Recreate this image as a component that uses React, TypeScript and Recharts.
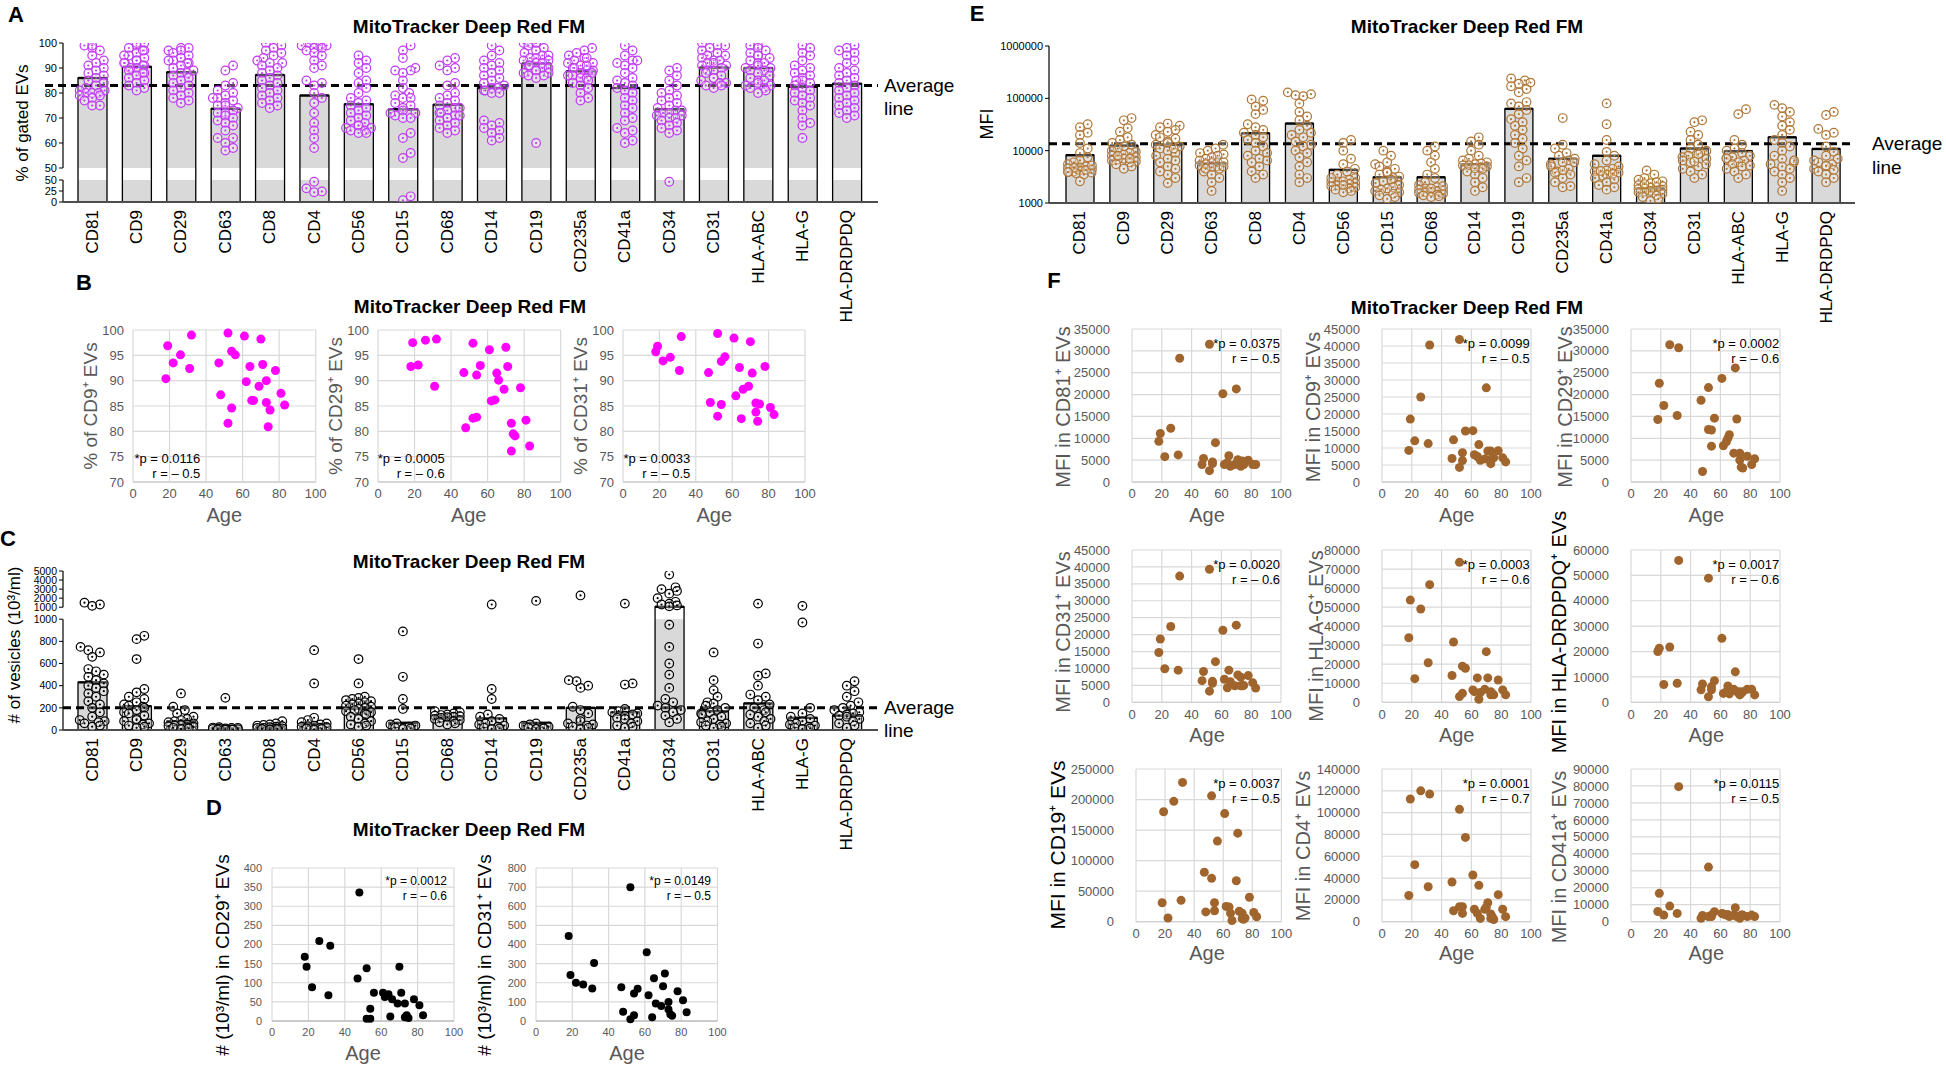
import React from 'react';
import {
  ComposedChart,
  ScatterChart,
  Bar,
  Scatter,
  XAxis,
  YAxis,
  CartesianGrid,
  ReferenceLine,
} from 'recharts';

const FONT = '"Liberation Sans", Arial, Helvetica, sans-serif';
const GREY_TXT = '#595959';

// ---------- bar panels (A, C, E) ----------
const MARKERS = [
  'CD81', 'CD9', 'CD29', 'CD63', 'CD8', 'CD4', 'CD56', 'CD15', 'CD68',
  'CD14', 'CD19', 'CD235a', 'CD41a', 'CD34', 'CD31', 'HLA-ABC', 'HLA-G', 'HLA-DRDPDQ',
];

// A: % of gated EVs
const PCT_MEAN = [86, 90.5, 88.3, 73.7, 87.2, 79, 75.5, 73.5, 75.3, 82, 91.8, 88.7, 82, 73.5, 90.2, 90, 82.5, 83.7];
const PCT_AVG = 83;
const PCT_TICKS_LOW = [0, 25, 50];
const PCT_TICKS_HIGH = [50, 60, 70, 80, 90, 100];
const PCT_DOTS = [
  [99, 98, 97, 95, 93, 92, 91, 90, 89, 88, 87, 86, 85, 84, 83, 82, 81, 81, 80, 80, 80, 79, 79, 78, 77, 75, 75, 99],
  [100, 99, 98, 97, 96, 95, 95, 94, 93, 93, 92, 92, 91, 91, 90, 90, 89, 88, 88, 87, 86, 85, 84, 83, 82, 81, 100, 97],
  [98, 98, 97, 97, 96, 95, 94, 93, 92, 92, 91, 90, 89, 88, 88, 87, 86, 85, 84, 83, 82, 81, 80, 79, 78, 77, 76, 93],
  [91, 89, 84, 83, 81, 80, 79, 78, 78, 77, 76, 75, 75, 74, 73, 72, 72, 71, 70, 69, 68, 67, 65, 62, 62, 60, 58, 57],
  [100, 99, 98, 97, 96, 95, 94, 93, 92, 92, 91, 90, 89, 88, 87, 86, 85, 84, 83, 82, 81, 80, 79, 78, 77, 76, 75, 74],
  [100, 100, 99, 99, 99, 98, 98, 97, 96, 95, 93, 91, 90, 85, 84, 83, 80, 78, 76, 72, 68, 65, 62, 58, 46, 31, 24, 22],
  [95, 93, 92, 90, 88, 85, 84, 82, 80, 78, 77, 76, 75, 74, 73, 72, 71, 70, 69, 68, 67, 67, 66, 66, 65, 65, 64, 64],
  [99, 97, 94, 90, 89, 89, 88, 85, 82, 80, 79, 78, 78, 76, 75, 74, 73, 72, 71, 70, 70, 64, 62, 56, 54, 4, 13, 72],
  [94, 93, 91, 90, 89, 84, 83, 80, 79, 78, 77, 76, 75, 74, 74, 73, 72, 72, 71, 71, 70, 70, 69, 68, 67, 66, 65, 64],
  [99, 97, 95, 93, 92, 91, 90, 89, 88, 87, 86, 85, 84, 83, 82, 82, 81, 81, 80, 80, 69, 68, 67, 66, 65, 64, 62, 61],
  [100, 100, 100, 100, 99, 98, 97, 96, 95, 95, 94, 94, 93, 93, 92, 92, 91, 91, 90, 90, 89, 89, 88, 88, 87, 87, 86, 60],
  [98, 97, 96, 95, 94, 93, 92, 92, 91, 90, 90, 89, 89, 88, 88, 87, 87, 86, 86, 85, 84, 83, 82, 80, 78, 77, 91, 94],
  [99, 97, 95, 93, 93, 92, 91, 90, 88, 86, 85, 84, 83, 82, 81, 80, 78, 77, 75, 74, 72, 70, 69, 66, 65, 64, 61, 60],
  [90, 89, 87, 85, 83, 81, 80, 79, 78, 77, 76, 75, 74, 73, 73, 72, 72, 71, 71, 70, 70, 69, 68, 67, 66, 65, 64, 46],
  [100, 99, 99, 98, 97, 96, 95, 95, 94, 93, 93, 92, 92, 91, 91, 90, 89, 89, 88, 87, 86, 86, 85, 84, 84, 83, 83, 82],
  [99, 99, 98, 97, 96, 95, 95, 94, 93, 92, 92, 91, 90, 90, 89, 89, 88, 87, 86, 85, 85, 84, 83, 83, 82, 82, 81, 80],
  [99, 98, 96, 95, 93, 91, 90, 89, 88, 87, 86, 85, 85, 84, 83, 82, 81, 80, 79, 78, 77, 76, 75, 73, 70, 68, 67, 62],
  [99, 98, 97, 96, 95, 93, 92, 90, 89, 88, 87, 86, 85, 84, 83, 82, 81, 80, 79, 78, 77, 76, 75, 74, 73, 72, 71, 70],
];

// C: number of vesicles (10^3/ml)
const VES_MEAN = [430, 215, 80, 20, 30, 55, 195, 65, 120, 105, 65, 200, 160, 1050, 170, 240, 110, 130];
const VES_AVG = 200;
const VES_TICKS_LOW = [0, 200, 400, 600, 800, 1000];
const VES_TICKS_HIGH = [1000, 2000, 3000, 4000, 5000];
const VES_DOTS = [
  [1300, 1500, 1150, 750, 720, 700, 660, 550, 530, 500, 480, 450, 420, 400, 380, 350, 330, 300, 260, 230, 200, 160, 120, 90, 80, 70, 60, 40, 30],
  [850, 820, 640, 370, 340, 300, 280, 250, 230, 220, 210, 200, 180, 160, 150, 130, 100, 90, 80, 60, 50, 40, 30, 20],
  [330, 210, 180, 150, 120, 100, 90, 80, 70, 60, 50, 45, 40, 35, 30, 25, 20, 15, 10],
  [290, 25, 22, 20, 18, 15, 12, 10, 8, 6, 5, 4, 3],
  [80, 60, 50, 45, 40, 35, 30, 25, 20, 18, 15, 12, 10, 8, 5],
  [720, 420, 110, 90, 70, 60, 50, 40, 35, 30, 25, 20, 15, 10, 5],
  [640, 420, 300, 290, 280, 270, 260, 250, 240, 230, 220, 210, 200, 190, 180, 170, 160, 150, 140, 120, 100, 80, 60, 50, 40, 30],
  [890, 480, 280, 190, 60, 50, 40, 30, 20, 15, 10],
  [170, 160, 150, 140, 135, 130, 125, 120, 115, 110, 100, 90, 80, 70, 60, 50],
  [1300, 370, 280, 140, 120, 100, 80, 60, 50, 40, 30, 20, 15, 10],
  [1700, 60, 50, 40, 30, 25, 20, 15, 10],
  [2300, 450, 440, 400, 380, 210, 180, 150, 100, 80, 60, 50, 40, 30, 20, 10],
  [1400, 420, 410, 190, 170, 160, 150, 140, 130, 110, 100, 80, 60, 40, 30, 20],
  [4600, 3200, 3000, 2800, 2500, 2000, 1600, 1400, 1300, 1200, 1100, 950, 750, 600, 500, 380, 280, 250, 220, 200, 180, 160, 130, 100, 70],
  [700, 450, 360, 300, 250, 240, 220, 200, 180, 160, 150, 140, 120, 100, 80, 70, 60, 50, 40, 30, 20],
  [1400, 780, 510, 490, 400, 320, 300, 270, 230, 200, 180, 160, 140, 120, 100, 80, 60, 40, 20],
  [1150, 970, 200, 150, 120, 100, 80, 60, 50, 40, 30, 20, 15, 10],
  [440, 400, 350, 300, 250, 220, 200, 180, 160, 150, 140, 130, 120, 100, 80, 60, 40, 20],
];

// E: MFI (log axis)
const MFI_MEAN = [8200, 12500, 13000, 5700, 21500, 33000, 4300, 3100, 3100, 5500, 63000, 7000, 8000, 1900, 11000, 9800, 18000, 10800];
const MFI_AVG = 13600;
const MFI_TICKS = [1000, 10000, 100000, 1000000];
const MFI_DOTS = [
  [32000, 28000, 22000, 20000, 14000, 11000, 9000, 7500, 6500, 6000, 5500, 5000, 4800, 4600, 4400, 4200, 4000, 3900, 3800, 3700, 3500, 2600, 4300, 5200, 4700, 3900],
  [42000, 38000, 27000, 23000, 18000, 16000, 14000, 13000, 12000, 11000, 10000, 9500, 9000, 8500, 8000, 7500, 7000, 6800, 6500, 6200, 6000, 5500, 5000, 4500, 7000, 8000],
  [33000, 30000, 28000, 25000, 23000, 20000, 18000, 17000, 15000, 14000, 13000, 12000, 11000, 10000, 9000, 8000, 7000, 6500, 6000, 5000, 4500, 4000, 3500, 3000, 2400, 11000],
  [13000, 11000, 10000, 9000, 8500, 8000, 7500, 7000, 6500, 6000, 5800, 5500, 5200, 5000, 4800, 4500, 4000, 3500, 3000, 2500, 1700, 6000, 5000, 4500],
  [95000, 90000, 70000, 60000, 50000, 32000, 28000, 25000, 22000, 20000, 18000, 16000, 14000, 12000, 10000, 9000, 8000, 7000, 6500, 6000, 5000, 4000, 3500, 3000],
  [130000, 120000, 115000, 110000, 80000, 55000, 45000, 38000, 30000, 25000, 22000, 20000, 18000, 15000, 13000, 12000, 10000, 9000, 7500, 6000, 5000, 3500, 3000, 2500],
  [16000, 14000, 10000, 7000, 5500, 4500, 4000, 3500, 3000, 2800, 2600, 2500, 2400, 2300, 2200, 2100, 2000, 1900, 1800, 1700, 1600, 2600, 3000, 2200],
  [10000, 8000, 6000, 5500, 5000, 4500, 4000, 3800, 3500, 3200, 3000, 2800, 2600, 2400, 2200, 2000, 1900, 1800, 1700, 1600, 1500, 1400, 1300, 1200],
  [12000, 10000, 8000, 6000, 4500, 3500, 3000, 2500, 2200, 2000, 1900, 1800, 1750, 1700, 1650, 1600, 1550, 1500, 1450, 1400, 1350, 1300, 1900, 2100],
  [18000, 15000, 13000, 10000, 8000, 7000, 6500, 6000, 5700, 5500, 5200, 5000, 4800, 4500, 4000, 3500, 3000, 2500, 2000, 1700, 5300, 4600],
  [240000, 220000, 200000, 190000, 170000, 150000, 130000, 85000, 80000, 70000, 60000, 50000, 40000, 35000, 30000, 25000, 20000, 17000, 14000, 11000, 8000, 6500, 5000, 3000, 2500],
  [42000, 13000, 11000, 9000, 8000, 7000, 6500, 6000, 5500, 5000, 4500, 4000, 3500, 3000, 2500, 2000, 2100, 6000, 4200, 3800],
  [80000, 32000, 16000, 9500, 8000, 6500, 5500, 5000, 4500, 4200, 4000, 3800, 3500, 3300, 3000, 2800, 2500, 2200, 2000, 1800, 3600, 4100],
  [4200, 3500, 3000, 2800, 2600, 2400, 2200, 2100, 2000, 1950, 1900, 1850, 1800, 1750, 1700, 1650, 1600, 1500, 1400, 1300, 1200, 1100, 2300, 2500],
  [38000, 35000, 23000, 20000, 16000, 13000, 11000, 10000, 9000, 8000, 7500, 7000, 6500, 6000, 5500, 5000, 4500, 4000, 3500, 3000, 8500, 6200],
  [62000, 50000, 16000, 13000, 11000, 10000, 9000, 8000, 7500, 7000, 6500, 6000, 5500, 5000, 4500, 4000, 3500, 3000, 7200, 5200],
  [75000, 65000, 55000, 45000, 35000, 30000, 25000, 20000, 16000, 14000, 12000, 10000, 8000, 7000, 6000, 5500, 5000, 4500, 4000, 3500, 3000, 2500, 1700, 6500],
  [55000, 48000, 26000, 22000, 20000, 12000, 9500, 8000, 7000, 6000, 5500, 5000, 4500, 4000, 3500, 3000, 2500, 5200, 6500, 4300],
];

// ---------- age correlation panels (B, D, F) ----------
const AGES = [18, 19, 22, 26, 31, 32, 47, 48, 52, 52, 54, 54, 56, 61, 62, 64, 65, 66, 69, 70, 71, 73, 73, 74, 75, 78, 81, 83];
const AGE_TICKS = [0, 20, 40, 60, 80, 100];

const B_CD9 = [90.4, 96.9, 93.5, 95.1, 92.4, 99.0, 93.5, 87.2, 99.4, 81.6, 95.8, 84.6, 95.1, 98.8, 89.8, 92.8, 86.1, 86.1, 88.9, 98.2, 93.2, 90.0, 85.7, 80.9, 84.2, 92.0, 87.5, 85.2];
const B_CD29 = [92.8, 97.5, 93.1, 98.0, 88.9, 98.2, 91.6, 80.7, 97.4, 82.6, 82.8, 91.1, 93.0, 96.1, 86.0, 86.2, 91.5, 90.1, 88.3, 96.6, 92.8, 81.6, 76.1, 79.5, 79.1, 88.6, 82.2, 77.1];
const B_CD31 = [95.7, 96.8, 93.9, 94.6, 92.0, 98.7, 91.6, 85.7, 99.3, 83.0, 93.8, 85.3, 94.7, 98.4, 87.0, 92.6, 82.5, 88.3, 88.9, 97.7, 91.5, 85.6, 83.8, 82.0, 85.4, 92.8, 84.7, 83.3];
const B_TICKS = [70, 75, 80, 85, 90, 95, 100];

const D_CD29 = [168, 142, 88, 209, 67, 197, 111, 336, 138, 6, 6, 32, 74, 74, 63, 70, 12, 57, 46, 142, 74, 46, 10, 15, 8, 57, 41, 15];
const D_CD31 = [445, 240, 200, 191, 170, 303, 177, 49, 9, 700, 30, 144, 168, 359, 135, 19, 224, 91, 79, 182, 248, 100, 60, 35, 28, 156, 109, 46];
const D29_TICKS = [0, 50, 100, 150, 200, 250, 300, 350, 400];
const D31_TICKS = [0, 100, 200, 300, 400, 500, 600, 700, 800];

const F_CD81 = [9300, 11100, 5800, 12300, 6200, 28300, 4000, 5400, 2600, 31500, 4600, 4200, 9000, 20200, 4000, 4400, 6000, 3600, 4000, 21300, 5100, 4400, 3600, 4800, 4000, 5000, 4000, 4000];
const F_CD9 = [9300, 18500, 12100, 25000, 11300, 40300, 6900, 12400, 4300, 41900, 8600, 6300, 15000, 15100, 8000, 7500, 11000, 6400, 6800, 27700, 9100, 9100, 5400, 7100, 7100, 9200, 7100, 5900];
const F_CD29 = [14300, 22600, 17500, 31400, 15200, 30700, 18700, 2400, 21600, 12000, 11900, 8200, 14600, 23700, 8300, 9200, 10000, 10800, 6600, 26100, 14400, 6600, 5000, 3400, 3200, 5900, 4000, 5300];
const F_CD31 = [14700, 18700, 9900, 22400, 9500, 37300, 6400, 9100, 3300, 39300, 6200, 5600, 12000, 21300, 6800, 4300, 9500, 6100, 4900, 22800, 8100, 7400, 4900, 4900, 5000, 7900, 5800, 4200];
const F_HLAG = [33900, 53700, 12400, 49000, 20800, 61800, 14100, 31700, 3000, 73500, 4700, 19000, 17900, 6500, 5600, 12800, 1600, 5100, 6800, 26600, 12800, 5600, 3900, 4500, 3900, 11700, 6500, 3900];
const F_HLADR = [20000, 21300, 7000, 21800, 7500, 55900, 4900, 7200, 2200, 48900, 4900, 6200, 8500, 25200, 3500, 4200, 6400, 3300, 5100, 12000, 4200, 4200, 2900, 3500, 4200, 5100, 5100, 2900];
const F_CD19 = [31000, 180000, 6000, 197000, 35000, 228000, 81000, 16000, 71000, 206000, 18000, 31000, 132000, 177000, 25000, 24000, 14000, 2000, 67000, 145000, 17000, 14000, 5000, 4000, 6000, 40000, 15000, 8000];
const F_CD4 = [24000, 112500, 52300, 120000, 32000, 117000, 36400, 10000, 103000, 13800, 7600, 13800, 77300, 42800, 11400, 7600, 33300, 3000, 11400, 13100, 17400, 7000, 3000, 4600, 2000, 24800, 11400, 4600];
const F_CD41A = [6000, 16700, 3900, 9200, 4900, 79600, 2000, 3700, 3000, 32200, 3000, 3900, 5900, 4900, 4500, 3900, 4200, 3000, 3900, 8200, 3000, 2000, 3000, 3900, 3900, 3000, 3900, 3000];

const T35K = [0, 5000, 10000, 15000, 20000, 25000, 30000, 35000];
const T45K = [0, 5000, 10000, 15000, 20000, 25000, 30000, 35000, 40000, 45000];
const T60K = [0, 10000, 20000, 30000, 40000, 50000, 60000];
const T80K = [0, 10000, 20000, 30000, 40000, 50000, 60000, 70000, 80000];
const T90K = [0, 10000, 20000, 30000, 40000, 50000, 60000, 70000, 80000, 90000];
const T140K = [0, 20000, 40000, 60000, 80000, 100000, 120000, 140000];
const T250K = [0, 50000, 100000, 150000, 200000, 250000];

// broken-axis transforms
const pctD = (v: number) => (v <= 50 ? v * 0.176 : 13.6 + (v - 50));
const vesD = (v: number) => (v <= 1000 ? v : 1108 + (v - 1000) * 0.08175);

// simple beeswarm: horizontal offsets in px so the rings don't pile up
function swarm(vals: number[], py: (v: number) => number, r: number, maxOff: number): number[] {
  const order = vals.map((_, i) => i).sort((a, b) => py(vals[a]) - py(vals[b]));
  const placed: { x: number; y: number }[] = [];
  const out = vals.map(() => 0);
  const step = r * 0.9;
  const minD2 = (r * 1.7) ** 2;
  order.forEach((i, n) => {
    const y = py(vals[i]);
    let chosen: number | null = null;
    for (let k = 0; k < 30 && chosen === null; k++) {
      const off = (k % 2 ? 1 : -1) * Math.ceil(k / 2) * step;
      if (Math.abs(off) > maxOff) continue;
      if (placed.every((q) => (q.x - off) ** 2 + (q.y - y) ** 2 >= minD2)) chosen = off;
    }
    if (chosen === null) chosen = ((n % 5) - 2) * (maxOff / 2);
    placed.push({ x: chosen, y });
    out[i] = chosen;
  });
  return out;
}

// eslint-disable-next-line @typescript-eslint/no-explicit-any
const CatTick = (props: any) => {
  const { x, y, payload } = props;
  return (
    <text
      transform={`translate(${x},${y}) rotate(-90)`}
      textAnchor="end"
      dominantBaseline="central"
      fontSize={17}
      fontFamily={FONT}
      fill="#000"
    >
      {payload.value}
    </text>
  );
};

const ring = (color: string) =>
  // eslint-disable-next-line @typescript-eslint/no-explicit-any
  (props: any) => (
    <g>
      <circle cx={props.cx} cy={props.cy} r={4.3} fill="#fff" fillOpacity={0.3} stroke={color} strokeWidth={1.2} />
      <circle cx={props.cx} cy={props.cy} r={1.1} fill={color} />
    </g>
  );

const brokenBar = (gap?: [number, number]) =>
  // eslint-disable-next-line @typescript-eslint/no-explicit-any
  (props: any) => {
    const { x, y, width, height, payload } = props;
    if (!(height > 0)) return <g />;
    const base = y + height;
    let gapRect = null;
    if (gap && payload.d > gap[0]) {
      const ppu = height / payload.d;
      const g0 = base - gap[0] * ppu;
      const g1 = base - Math.min(gap[1], payload.d) * ppu;
      gapRect = <rect x={x} y={g1} width={width} height={g0 - g1} fill="#fff" />;
    }
    return (
      <g>
        <rect x={x} y={y} width={width} height={height} fill="#d9d9d9" />
        {gapRect}
        <rect x={x} y={y} width={width} height={height} fill="none" stroke="#000" strokeWidth={1.3} />
        <line x1={x} x2={x + width} y1={y} y2={y} stroke="#000" strokeWidth={2.4} />
      </g>
    );
  };

type BarPanelProps = {
  plotLeft: number;
  plotTop: number;
  plotW: number;
  plotH: number;
  padL: number;
  padR: number;
  barSize: number;
  means: number[];
  dots: number[][];
  avg: number;
  avgExtendL?: number;
  toD: (v: number) => number;
  domain: [number, number];
  ticks: { d: number; label: string }[];
  gap?: [number, number];
  log?: boolean;
  dotColor: string;
  tickFont: number;
};

function BarPanel(p: BarPanelProps) {
  const YW = 50;
  const MT = 10;
  const MR = 30;
  const XH = 140;
  const band = (p.plotW - p.padL - p.padR) / MARKERS.length;
  const xMin = -0.5 - p.padL / band;
  const xMax = MARKERS.length - 0.5 + p.padR / band;
  const [d0, d1] = p.domain;
  const frac = (v: number) => {
    const d = p.toD(v);
    const t = p.log
      ? (Math.log10(d) - Math.log10(d0)) / (Math.log10(d1) - Math.log10(d0))
      : (d - d0) / (d1 - d0);
    return t * p.plotH;
  };
  const bars = MARKERS.map((name, i) => ({ name, d: p.toD(p.means[i]) }));
  const pts = p.dots.flatMap((vals, i) => {
    const offs = swarm(vals, frac, 4.3, p.barSize / 2 - 2);
    return vals.map((v, j) => ({ x: i + offs[j] / band, y: p.toD(v) }));
  });
  const labelOf = new Map(p.ticks.map((t) => [t.d, t.label]));
  const segs: [number, number][] = p.gap ? [[d0, p.gap[0]], [p.gap[1], d1]] : [[d0, d1]];
  const avgD = p.toD(p.avg);
  const avgX0 = xMin - (p.avgExtendL ?? 0) / band;

  return (
    <div style={{ position: 'absolute', left: p.plotLeft - YW, top: p.plotTop - MT }}>
      <ComposedChart
        width={p.plotW + YW + MR}
        height={p.plotH + MT + XH}
        data={bars}
        margin={{ top: MT, right: MR, left: 0, bottom: 0 }}
      >
        <XAxis
          dataKey="name"
          height={XH}
          padding={{ left: p.padL, right: p.padR }}
          axisLine={{ stroke: '#4d4d4d', strokeWidth: 2 }}
          tickLine={false}
          interval={0}
          tick={CatTick}
        />
        <XAxis xAxisId="n" type="number" dataKey="x" domain={[xMin, xMax]} allowDataOverflow hide />
        <YAxis
          width={YW}
          type="number"
          domain={p.domain}
          scale={p.log ? 'log' : 'auto'}
          allowDataOverflow
          ticks={p.ticks.map((t) => t.d)}
          interval={0}
          tickFormatter={(d: number) => labelOf.get(d) ?? ''}
          axisLine={false}
          tickLine={{ stroke: '#000' }}
          tickSize={4}
          tickMargin={2}
          tick={{ fontSize: p.tickFont, fill: '#000', fontFamily: FONT }}
        />
        <Bar dataKey="d" barSize={p.barSize} isAnimationActive={false} shape={brokenBar(p.gap)} />
        <Scatter data={pts} xAxisId="n" dataKey="y" isAnimationActive={false} shape={ring(p.dotColor)} />
        <ReferenceLine
          xAxisId="n"
          segment={[{ x: avgX0, y: avgD }, { x: xMax, y: avgD }]}
          stroke="#000"
          strokeWidth={3}
          strokeDasharray="8 5"
          ifOverflow="visible"
        />
        {segs.map(([a, b], k) => (
          <ReferenceLine
            key={k}
            xAxisId="n"
            segment={[{ x: xMin, y: a }, { x: xMin, y: b }]}
            stroke="#000"
            strokeWidth={1.2}
            ifOverflow="visible"
          />
        ))}
      </ComposedChart>
    </div>
  );
}

type ScatterPanelProps = {
  plotLeft: number;
  plotTop: number;
  plotW: number;
  plotH: number;
  ys: number[];
  yTicks: number[];
  color: string;
  r: number;
  tickFont: number;
  yGap: number;
  axisColor?: string;
};

function ScatterPanel(p: ScatterPanelProps) {
  const YW = 80;
  const MT = 12;
  const MR = 14;
  const XH = 30;
  const pts = AGES.map((a, i) => ({ x: a, y: p.ys[i] }));
  const tick = { fontSize: p.tickFont, fill: GREY_TXT, fontFamily: FONT };
  return (
    <div style={{ position: 'absolute', left: p.plotLeft - YW, top: p.plotTop - MT }}>
      <ScatterChart
        width={p.plotW + YW + MR}
        height={p.plotH + MT + XH}
        margin={{ top: MT, right: MR, left: 0, bottom: 0 }}
      >
        <CartesianGrid stroke="#d9d9d9" strokeWidth={1.2} />
        <XAxis
          type="number"
          dataKey="x"
          domain={[0, 100]}
          ticks={AGE_TICKS}
          interval={0}
          height={XH}
          axisLine={{ stroke: p.axisColor ?? '#d0d0d0', strokeWidth: 1.3 }}
          tickLine={false}
          tickSize={0}
          tickMargin={7}
          tick={tick}
        />
        <YAxis
          type="number"
          dataKey="y"
          domain={[p.yTicks[0], p.yTicks[p.yTicks.length - 1]]}
          ticks={p.yTicks}
          interval={0}
          width={YW}
          axisLine={false}
          tickLine={false}
          tickSize={0}
          tickMargin={p.yGap}
          tick={tick}
        />
        <Scatter
          data={pts}
          isAnimationActive={false}
          // eslint-disable-next-line @typescript-eslint/no-explicit-any
          shape={(s: any) => <circle cx={s.cx} cy={s.cy} r={p.r} fill={p.color} />}
        />
      </ScatterChart>
    </div>
  );
}

type TxtProps = {
  x: number;
  y: number;
  size?: number;
  bold?: boolean;
  color?: string;
  align?: 'start' | 'middle' | 'end';
  rotate?: boolean;
  children: React.ReactNode;
};

function Txt({ x, y, size = 19, bold = false, color = '#000', align = 'middle', rotate = false, children }: TxtProps) {
  const transform = rotate
    ? 'translate(-50%,-50%) rotate(-90deg)'
    : align === 'start'
      ? 'translate(0,-50%)'
      : align === 'end'
        ? 'translate(-100%,-50%)'
        : 'translate(-50%,-50%)';
  return (
    <div
      style={{
        position: 'absolute',
        left: x,
        top: y,
        transform,
        fontSize: size,
        fontWeight: bold ? 700 : 400,
        color,
        fontFamily: FONT,
        whiteSpace: 'nowrap',
        lineHeight: 1,
      }}
    >
      {children}
    </div>
  );
}

function Stat({ right, top, p, r, size = 13 }: { right: number; top: number; p: string; r: string; size?: number }) {
  return (
    <>
      <Txt x={right} y={top} size={size} align="end">{`*p = ${p}`}</Txt>
      <Txt x={right} y={top + 15} size={size} align="end">{`r = – ${r}`}</Txt>
    </>
  );
}

const TITLE = 'MitoTracker Deep Red FM';
const BROWN = '#A0652D';

export default function App() {
  const pctTicks = [
    ...PCT_TICKS_LOW.map((v) => ({ d: pctD(v), label: String(v) })),
    ...PCT_TICKS_HIGH.slice(1).map((v) => ({ d: pctD(v), label: String(v) })),
    { d: 13.6, label: '50' },
  ];
  const vesTicks = [
    ...VES_TICKS_LOW.map((v) => ({ d: vesD(v), label: String(v) })),
    { d: 1108, label: '1000' },
    ...VES_TICKS_HIGH.slice(1).map((v) => ({ d: vesD(v), label: String(v) })),
  ];
  const mfiTicks = MFI_TICKS.map((v) => ({ d: v, label: String(v) }));

  // scatter grid geometry
  const bX = [133.3, 377.7, 623.3];
  const dX = [272, 536];
  const fX = [1132, 1381.7, 1631.3];
  const fY = [329.3, 550, 769];

  return (
    <div
      style={{
        position: 'absolute',
        left: 0,
        top: 0,
        width: 1946,
        height: 1067,
        background: '#fff',
        overflow: 'hidden',
        fontFamily: FONT,
      }}
    >
      {/* ---------- A ---------- */}
      <BarPanel
        plotLeft={63}
        plotTop={43}
        plotW={815}
        plotH={159}
        padL={7}
        padR={9}
        barSize={29}
        means={PCT_MEAN}
        dots={PCT_DOTS}
        avg={PCT_AVG}
        avgExtendL={18}
        toD={pctD}
        domain={[0, 63.6]}
        ticks={pctTicks}
        gap={[8.8, 13.6]}
        dotColor="#C03AF5"
        tickFont={11}
      />
      {/* ---------- C ---------- */}
      <BarPanel
        plotLeft={63}
        plotTop={571}
        plotW={815}
        plotH={159}
        padL={7}
        padR={9}
        barSize={29}
        means={VES_MEAN}
        dots={VES_DOTS}
        avg={VES_AVG}
        toD={vesD}
        domain={[0, 1435]}
        ticks={vesTicks}
        gap={[1000, 1108]}
        dotColor="#000"
        tickFont={10.5}
      />
      {/* ---------- E ---------- */}
      <BarPanel
        plotLeft={1049}
        plotTop={46}
        plotW={806}
        plotH={157}
        padL={9}
        padR={7}
        barSize={28}
        means={MFI_MEAN}
        dots={MFI_DOTS}
        avg={MFI_AVG}
        toD={(v) => v}
        domain={[1000, 1000000]}
        ticks={mfiTicks}
        log
        dotColor="#B07636"
        tickFont={11}
      />

      {/* ---------- B ---------- */}
      <ScatterPanel plotLeft={bX[0]} plotTop={330} plotW={182.7} plotH={152} ys={B_CD9} yTicks={B_TICKS} color="#FF00FF" r={4.5} tickFont={13} yGap={9} />
      <ScatterPanel plotLeft={bX[1]} plotTop={330} plotW={182.7} plotH={152} ys={B_CD29} yTicks={B_TICKS} color="#FF00FF" r={4.5} tickFont={13} yGap={9} />
      <ScatterPanel plotLeft={bX[2]} plotTop={330} plotW={182} plotH={152} ys={B_CD31} yTicks={B_TICKS} color="#FF00FF" r={4.5} tickFont={13} yGap={9} />

      {/* ---------- D ---------- */}
      <ScatterPanel plotLeft={dX[0]} plotTop={868} plotW={182} plotH={153} ys={D_CD29} yTicks={D29_TICKS} color="#000" r={4} tickFont={11} yGap={10} axisColor="#bfbfbf" />
      <ScatterPanel plotLeft={dX[1]} plotTop={868} plotW={181.5} plotH={153} ys={D_CD31} yTicks={D31_TICKS} color="#000" r={4} tickFont={11} yGap={10} axisColor="#bfbfbf" />

      {/* ---------- F ---------- */}
      <ScatterPanel plotLeft={fX[0]} plotTop={fY[0]} plotW={149} plotH={153} ys={F_CD81} yTicks={T35K} color={BROWN} r={4.5} tickFont={13} yGap={22} />
      <ScatterPanel plotLeft={fX[1]} plotTop={fY[0]} plotW={149} plotH={153} ys={F_CD9} yTicks={T45K} color={BROWN} r={4.5} tickFont={13} yGap={22} />
      <ScatterPanel plotLeft={fX[2]} plotTop={fY[0]} plotW={149} plotH={153} ys={F_CD29} yTicks={T35K} color={BROWN} r={4.5} tickFont={13} yGap={22} />
      <ScatterPanel plotLeft={fX[0]} plotTop={fY[1]} plotW={149} plotH={152.3} ys={F_CD31} yTicks={T45K} color={BROWN} r={4.5} tickFont={13} yGap={22} />
      <ScatterPanel plotLeft={fX[1]} plotTop={fY[1]} plotW={149} plotH={152.3} ys={F_HLAG} yTicks={T80K} color={BROWN} r={4.5} tickFont={13} yGap={22} />
      <ScatterPanel plotLeft={fX[2]} plotTop={fY[1]} plotW={149} plotH={152.3} ys={F_HLADR} yTicks={T60K} color={BROWN} r={4.5} tickFont={13} yGap={22} />
      <ScatterPanel plotLeft={1136} plotTop={fY[2]} plotW={145.4} plotH={152.7} ys={F_CD19} yTicks={T250K} color={BROWN} r={4.5} tickFont={13} yGap={22} />
      <ScatterPanel plotLeft={fX[1]} plotTop={fY[2]} plotW={149} plotH={152.7} ys={F_CD4} yTicks={T140K} color={BROWN} r={4.5} tickFont={13} yGap={22} />
      <ScatterPanel plotLeft={fX[2]} plotTop={fY[2]} plotW={149} plotH={152.7} ys={F_CD41A} yTicks={T90K} color={BROWN} r={4.5} tickFont={13} yGap={22} />

      {/* panel letters */}
      <Txt x={16} y={15} size={22} bold>A</Txt>
      <Txt x={84} y={283} size={22} bold>B</Txt>
      <Txt x={8} y={539} size={22} bold>C</Txt>
      <Txt x={214} y={808} size={22} bold>D</Txt>
      <Txt x={977} y={14} size={22} bold>E</Txt>
      <Txt x={1054} y={281} size={22} bold>F</Txt>

      {/* titles */}
      <Txt x={469} y={26} bold>{TITLE}</Txt>
      <Txt x={470} y={306} bold>{TITLE}</Txt>
      <Txt x={469} y={561} bold>{TITLE}</Txt>
      <Txt x={469} y={829} bold>{TITLE}</Txt>
      <Txt x={1467} y={26} bold>{TITLE}</Txt>
      <Txt x={1467} y={307} bold>{TITLE}</Txt>

      {/* average line labels */}
      <Txt x={884} y={85} align="start">Average</Txt>
      <Txt x={884} y={108} align="start">line</Txt>
      <Txt x={884} y={707} align="start">Average</Txt>
      <Txt x={884} y={730} align="start">line</Txt>
      <Txt x={1872} y={143} align="start">Average</Txt>
      <Txt x={1872} y={167} align="start">line</Txt>

      {/* bar panel axis titles */}
      <Txt x={22} y={123} size={17} rotate>% of gated EVs</Txt>
      <Txt x={14} y={645} size={17} rotate>
        # of vesicles (10³/ml)
      </Txt>
      <Txt x={987} y={124} size={18} rotate>MFI</Txt>

      {/* B labels */}
      <Txt x={90} y={406} rotate color={GREY_TXT}>% of CD9⁺ EVs</Txt>
      <Txt x={335} y={406} rotate color={GREY_TXT}>% of CD29⁺ EVs</Txt>
      <Txt x={580} y={406} rotate color={GREY_TXT}>% of CD31⁺ EVs</Txt>
      {bX.map((x, i) => (
        <Txt key={i} x={x + 91} y={515} size={20} color={GREY_TXT}>Age</Txt>
      ))}
      <Stat right={bX[0] + 67} top={458} p="0.0116" r="0.5" />
      <Stat right={bX[1] + 67} top={458} p="0.0005" r="0.6" />
      <Stat right={bX[2] + 67} top={458} p="0.0033" r="0.5" />

      {/* D labels */}
      <Txt x={222} y={955} rotate>{'# (10³/ml) in CD29⁺ EVs'}</Txt>
      <Txt x={484} y={955} rotate>{'# (10³/ml) in CD31⁺ EVs'}</Txt>
      {dX.map((x, i) => (
        <Txt key={i} x={x + 91} y={1053} size={20} color={GREY_TXT}>Age</Txt>
      ))}
      <Stat right={dX[0] + 175} top={881} p="0.0012" r="0.6" size={12} />
      <Stat right={dX[1] + 175} top={881} p="0.0149" r="0.5" size={12} />

      {/* F labels */}
      <Txt x={1063} y={407} size={20} rotate color={GREY_TXT}>MFI in CD81⁺ EVs</Txt>
      <Txt x={1313} y={407} size={20} rotate color={GREY_TXT}>MFI in CD9⁺ EVs</Txt>
      <Txt x={1565} y={407} size={20} rotate color={GREY_TXT}>MFI in CD29⁺ EVs</Txt>
      <Txt x={1063} y={632} size={20} rotate color={GREY_TXT}>MFI in CD31⁺ EVs</Txt>
      <Txt x={1316} y={636} size={20} rotate color={GREY_TXT}>MFI in HLA-G⁺ EVs</Txt>
      <Txt x={1559} y={632} size={20} rotate>MFI in HLA-DRDPDQ⁺ EVs</Txt>
      <Txt x={1057} y={845} size={21} rotate>MFI in CD19⁺ EVs</Txt>
      <Txt x={1303} y={846} size={20} rotate color={GREY_TXT}>MFI in CD4⁺ EVs</Txt>
      <Txt x={1559} y={857} size={20} rotate color={GREY_TXT}>MFI in CD41a⁺ EVs</Txt>
      {fY.map((y, row) =>
        fX.map((x, col) => (
          <Txt key={`${row}-${col}`} x={x + 75} y={y + [186, 185, 184][row]} size={20} color={GREY_TXT}>
            Age
          </Txt>
        )),
      )}
      <Stat right={fX[0] + 148} top={fY[0] + 14} p="0.0375" r="0.5" />
      <Stat right={fX[1] + 148} top={fY[0] + 14} p="0.0099" r="0.5" />
      <Stat right={fX[2] + 148} top={fY[0] + 14} p="0.0002" r="0.6" />
      <Stat right={fX[0] + 148} top={fY[1] + 14} p="0.0020" r="0.6" />
      <Stat right={fX[1] + 148} top={fY[1] + 14} p="0.0003" r="0.6" />
      <Stat right={fX[2] + 148} top={fY[1] + 14} p="0.0017" r="0.6" />
      <Stat right={fX[0] + 148} top={fY[2] + 14} p="0.0037" r="0.5" />
      <Stat right={fX[1] + 148} top={fY[2] + 14} p="0.0001" r="0.7" />
      <Stat right={fX[2] + 148} top={fY[2] + 14} p="0.0115" r="0.5" />
    </div>
  );
}
